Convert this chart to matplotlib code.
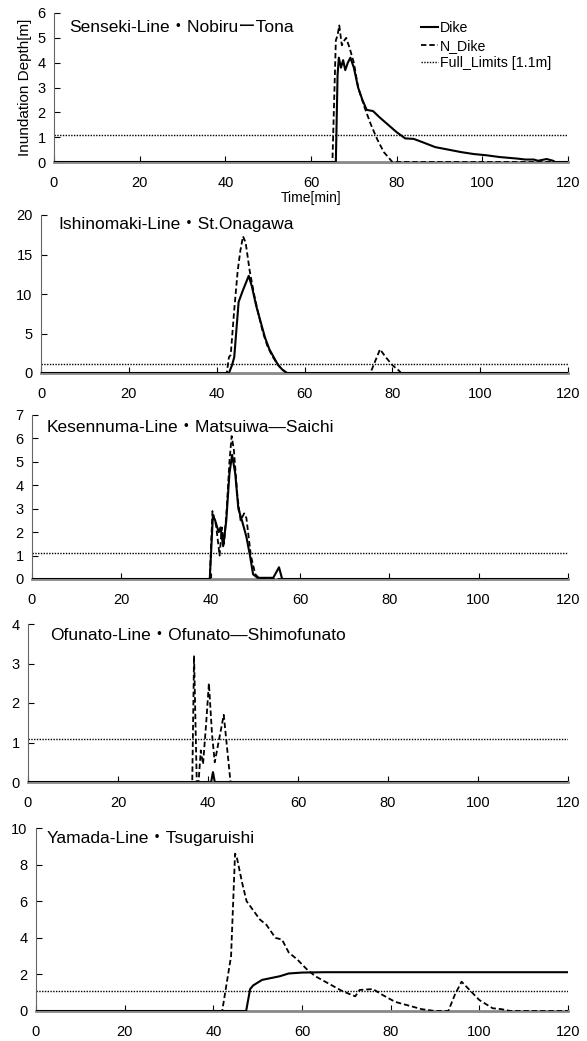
import matplotlib
matplotlib.use("Agg")
import matplotlib.pyplot as plt

plt.rcParams["font.family"] = ["Liberation Sans", "Noto Sans CJK JP", "DejaVu Sans"]

LIMIT = 1.1

titles = [
    "Senseki-Line・Nobiruー Tona".replace("ー ", "ー"),
    "Ishinomaki-Line・St.Onagawa",
    "Kesennuma-Line・Matsuiwa—Saichi",
    "Ofunato-Line・Ofunato—Shimofunato",
    "Yamada-Line・Tsugaruishi",
]
ymax = [6, 20, 7, 4, 10]
ystep = [1, 5, 1, 1, 2]

# Senseki
t1_dike = [0, 65.8, 66.2, 66.5, 67.0, 67.5, 68.0, 68.6, 69.2, 70, 71, 72, 73, 74.5, 76, 78, 80,
           82, 84, 86, 89, 92, 95, 98, 101, 104, 108, 110, 112, 113, 115, 116.5, 117, 120]
d1_dike = [0, 0, 3.5, 4.2, 3.8, 4.1, 3.7, 4.0, 4.2, 3.8, 3.0, 2.5, 2.1, 2.05, 1.8, 1.5, 1.2,
           0.95, 0.93, 0.8, 0.6, 0.5, 0.4, 0.32, 0.27, 0.2, 0.14, 0.1, 0.1, 0.05, 0.12, 0.05, 0, 0]
t1_ndike = [0, 65.0, 65.8, 66.2, 66.6, 67.2, 67.8, 68.2, 69, 70, 71, 72.5, 74, 75.5, 77, 78.5, 79, 120]
d1_ndike = [0, 0, 4.9, 5.1, 5.5, 4.7, 4.9, 5.0, 4.6, 4.0, 3.0, 2.2, 1.5, 0.9, 0.4, 0.1, 0, 0]

# Ishinomaki
t2_dike = [0, 42.8, 43.5, 44, 45, 46, 47.3, 48, 49, 50, 51, 52, 53, 54, 55, 56, 120]
d2_dike = [0, 0, 1.0, 2.0, 9.0, 10.5, 12.3, 11.0, 8.5, 6.5, 4.5, 3.0, 2.0, 1.0, 0.4, 0, 0]
t2_ndike = [0, 42.3, 42.8, 43.2, 44, 44.8, 45.4, 46, 46.6, 47.5, 48.5, 49.5, 50.5, 51.5, 52.5,
            53.5, 54.5, 55.5, 56, 75, 77.2, 78.5, 80, 81.5, 82, 120]
d2_ndike = [0, 0, 2.0, 2.3, 8.0, 13.0, 15.5, 17.3, 16.5, 13.0, 10.0, 7.5, 5.2, 3.5, 2.3,
            1.4, 0.7, 0.2, 0, 0, 3.0, 2.0, 1.0, 0.3, 0, 0]

# Kesennuma
t3_dike = [0, 39.8, 40.5, 41, 41.8, 42.2, 42.8, 43.5, 44.2, 44.8, 45.5, 46.2, 47, 48, 48.8,
           49.5, 50.5, 54, 55.3, 56, 120]
d3_dike = [0, 0, 2.7, 2.5, 2.0, 2.2, 1.4, 2.5, 4.5, 5.3, 4.5, 3.0, 2.5, 1.8, 1.0,
           0.2, 0.05, 0.05, 0.5, 0, 0]
t3_ndike = [0, 39.8, 40.4, 41.2, 42, 42.5, 43, 43.6, 44.2, 44.7, 45.2, 46, 46.7, 47.5, 48,
            49, 50, 51, 120]
d3_ndike = [0, 0, 2.9, 2.3, 1.0, 2.2, 1.5, 3.0, 5.0, 6.1, 5.5, 3.5, 2.5, 2.8, 2.6,
            1.0, 0.2, 0, 0]

# Ofunato
t4_dike = [0, 40.7, 41.1, 41.5, 120]
d4_dike = [0, 0, 0.25, 0, 0]
t4_ndike = [0, 36.5, 36.9, 37.5, 37.9, 38.4, 38.9, 39.6, 40.2, 40.9, 41.5, 42.5, 43.5, 45, 120]
d4_ndike = [0, 0, 3.2, 0, 0, 0.8, 0.45, 1.5, 2.5, 1.2, 0.5, 1.1, 1.7, 0, 0]

# Yamada
t5_dike = [0, 47.4, 48.3, 49, 51, 53, 55, 57, 60, 65, 120]
d5_dike = [0, 0, 1.2, 1.4, 1.7, 1.8, 1.9, 2.05, 2.1, 2.12, 2.12]
t5_ndike = [0, 42.0, 44, 44.9, 45.3, 46.5, 47.5, 49, 50.5, 52, 54, 55.5, 57, 59, 61, 63, 66,
            69, 72, 73, 76, 78, 81, 84, 87, 90, 93, 94.5, 96, 98, 100, 103, 105, 107, 120]
d5_ndike = [0, 0, 3.0, 8.6, 8.4, 7.0, 6.0, 5.5, 5.0, 4.7, 4.0, 3.9, 3.2, 2.8, 2.3, 1.9, 1.5,
            1.1, 0.8, 1.15, 1.2, 0.9, 0.5, 0.3, 0.1, 0, 0, 0.9, 1.6, 1.1, 0.6, 0.15, 0.1, 0, 0]

series = [
    (t1_dike, d1_dike, t1_ndike, d1_ndike),
    (t2_dike, d2_dike, t2_ndike, d2_ndike),
    (t3_dike, d3_dike, t3_ndike, d3_ndike),
    (t4_dike, d4_dike, t4_ndike, d4_ndike),
    (t5_dike, d5_dike, t5_ndike, d5_ndike),
]

# axes boxes in pixels: left, top, bottom (right edge shared)
W, H = 587, 1041
boxes = [(54, 13, 162), (41, 215, 373), (32, 415, 579), (28, 624, 782), (36, 828, 1011)]
right = 568
# title start x and centre y, in pixels
title_pos = [(69, 28), (58, 225), (47, 427), (50, 636), (47, 839)]

fig = plt.figure(figsize=(W / 100, H / 100), dpi=100)

for i, (l, t, b) in enumerate(boxes):
    ax = fig.add_axes([l / W, 1 - b / H, (right - l) / W, (b - t) / H])
    td, dd, tn, dn = series[i]
    ax.plot(td, dd, color="black", lw=1.5, ls="-", label="Dike", zorder=3)
    ax.plot(tn, dn, color="black", lw=1.3, ls=(0, (3, 1.6)), label="N_Dike", zorder=3)
    ax.axhline(LIMIT, color="black", lw=1.0, ls=(0, (1, 1)), label="Full_Limits [1.1m]")
    ax.set_xlim(0, 120)
    ax.set_ylim(0, ymax[i])
    ax.set_xticks(range(0, 121, 20))
    ax.set_yticks(range(0, ymax[i] + 1, ystep[i]))
    ax.tick_params(direction="in", length=4, labelsize=10.5, width=0.8)
    ax.tick_params(axis="x", pad=10)
    ax.tick_params(axis="y", pad=6)
    ax.spines["top"].set_visible(False)
    ax.spines["right"].set_visible(False)
    ax.spines["bottom"].set_color("#888888")
    ax.spines["bottom"].set_linewidth(2)
    ax.spines["left"].set_color("#666666")
    ax.spines["left"].set_linewidth(0.8)
    tx, ty = title_pos[i]
    fig.text(tx / W, 1 - ty / H, titles[i], fontsize=12.5, ha="left", va="center")
    if i == 0:
        ax.set_ylabel("Inundation Depth[m]", fontsize=11, labelpad=4)
        ax.set_xlabel("Time[min]", fontsize=10, labelpad=1)
        ax.legend(loc="upper left", bbox_to_anchor=((418 - l) / (right - l), 0.965),
                  frameon=False, fontsize=10.2, handlelength=1.2, handletextpad=0.15,
                  labelspacing=0.25, borderaxespad=0.0, borderpad=0.2)

fig.savefig("out.png", dpi=100)
